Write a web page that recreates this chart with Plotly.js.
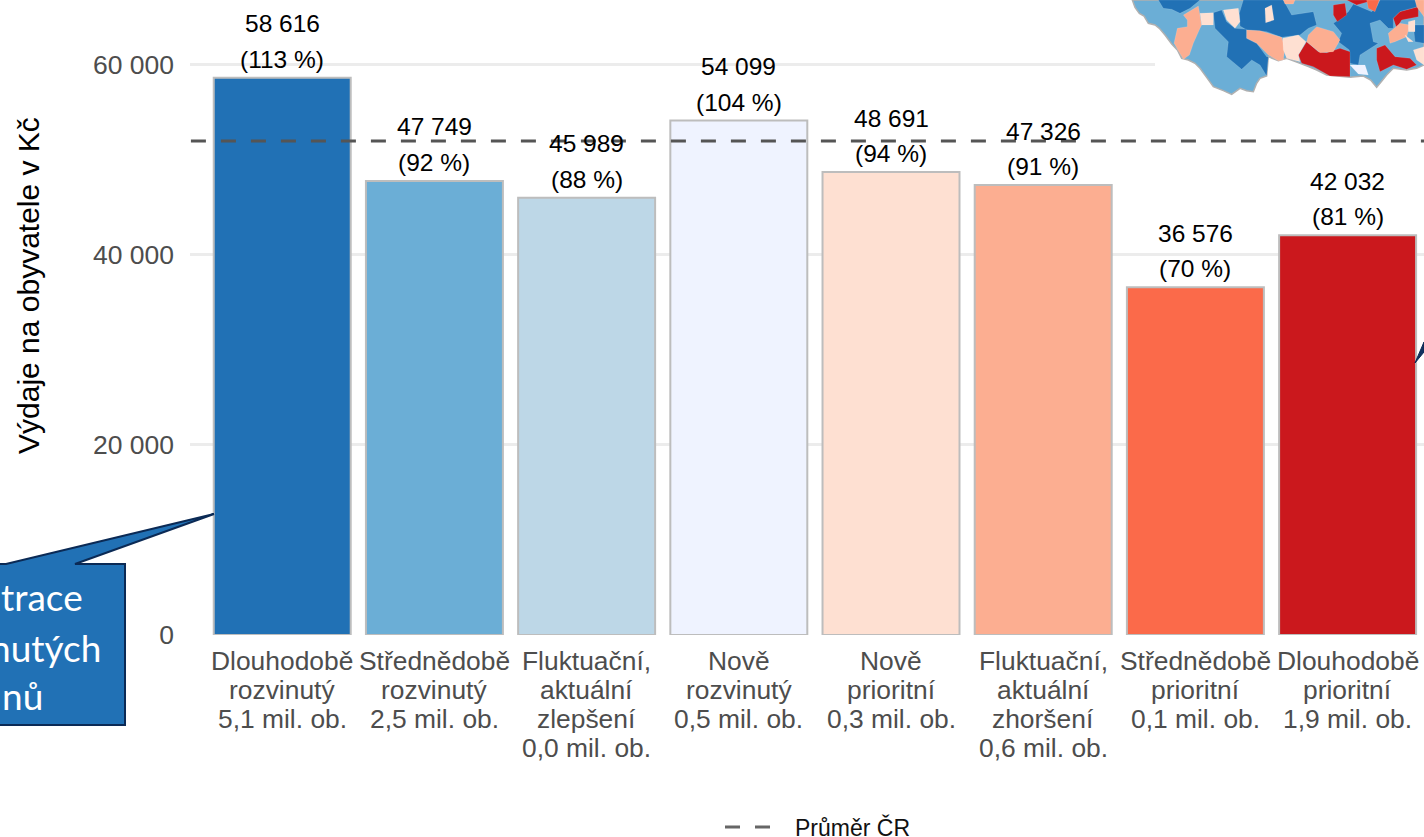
<!DOCTYPE html>
<html><head><meta charset="utf-8">
<script src="https://cdn.plot.ly/plotly-3.0.1.min.js"></script>
<style>html,body{margin:0;padding:0;background:#fff;overflow:hidden}</style></head>
<body><div id="c" style="width:1424px;height:837px"></div>
<script>
const categoryLines = [
 ["Dlouhodobě","rozvinutý","5,1 mil. ob."],
 ["Střednědobě","rozvinutý","2,5 mil. ob."],
 ["Fluktuační,","aktuální","zlepšení","0,0 mil. ob."],
 ["Nově","rozvinutý","0,5 mil. ob."],
 ["Nově","prioritní","0,3 mil. ob."],
 ["Fluktuační,","aktuální","zhoršení","0,6 mil. ob."],
 ["Střednědobě","prioritní","0,1 mil. ob."],
 ["Dlouhodobě","prioritní","1,9 mil. ob."]
];
const values = [58616,47749,45989,54099,48691,47326,36576,42032];
const valueLabels = ["58 616","47 749","45 989","54 099","48 691","47 326","36 576","42 032"];
const pctLabels = ["(113 %)","(92 %)","(88 %)","(104 %)","(94 %)","(91 %)","(70 %)","(81 %)"];
const barColors = ["#2171b5","#6baed6","#bdd7e7","#eff3ff","#fee0d2","#fcae91","#fb6a4a","#cb181d"];
const average = 51950;
const yTicks = [0,20000,40000,60000];
const yTickLabels = ["0","20 000","40 000","60 000"];
const calloutLines = [["trace",83,596],["nutých",101,647],["nů",43,695]];

// Decorative map inset, traced in crop coordinates
const mapOutline = [[97,0],[105,22],[118,40],[132,48],[145,70],[165,75],[178,85],[195,105],[215,132],[232,150],[245,175],[265,180],[285,190],[300,205],[322,235],[340,260],[370,272],[395,283],[420,265],[440,272],[460,275],[470,250],[480,235],[500,228],[505,170],[535,182],[560,175],[600,190],[625,200],[650,210],[680,225],[750,232],[790,228],[812,240],[830,262],[848,240],[860,225],[880,205],[920,210],[950,205],[972,195],[972,0]];
const mapRegions = [
 ["#2171b5",[[175,0],[190,25],[215,28],[240,40],[270,25],[300,0]]],
 ["#2171b5",[[430,0],[550,0],[575,45],[640,35],[650,75],[625,85],[600,105],[545,112],[500,95],[440,90],[420,78],[418,40]]],
 ["#2171b5",[[340,38],[365,30],[380,65],[405,85],[440,88],[440,115],[470,130],[500,170],[505,170],[500,228],[480,195],[455,180],[425,208],[380,170],[385,125],[345,85]]],
 ["#2171b5",[[700,70],[715,60],[745,35],[760,12],[815,35],[830,20],[840,0],[945,0],[955,20],[900,35],[880,55],[880,85],[865,85],[840,60],[810,70],[820,125],[835,130],[780,165],[775,195],[750,190],[748,150],[715,125],[725,100]]],
 ["#2171b5",[[940,75],[972,75],[972,130],[945,125]]],
 ["#cb181d",[[595,165],[620,125],[655,155],[680,158],[720,145],[750,155],[750,230],[690,228],[640,200],[605,190]]],
 ["#cb181d",[[700,15],[735,10],[740,45],[712,65],[700,45]]],
 ["#cb181d",[[740,0],[770,15],[805,5],[805,0]]],
 ["#cb181d",[[830,145],[855,135],[885,170],[930,175],[950,195],[920,208],[880,195],[840,215],[830,180]]],
 ["#cb181d",[[880,55],[900,35],[955,20],[955,50],[905,60],[890,85]]],
 ["#fcae91",[[250,45],[295,18],[305,75],[300,85],[280,130],[268,165],[250,178],[222,130],[232,85],[262,80],[262,60]]],
 ["#fcae91",[[440,90],[480,92],[545,112],[555,140],[550,180],[535,182],[505,165],[470,130],[440,115]]],
 ["#fcae91",[[625,105],[650,80],[700,95],[720,120],[700,155],[660,158],[620,125]]],
 ["#fcae91",[[865,100],[900,70],[930,75],[920,110],[885,125],[870,130]]],
 ["#fcae91",[[945,0],[972,0],[972,50],[950,20]]],
 ["#fcae91",[[550,0],[585,0],[580,12],[555,12]]],
 ["#fee0d2",[[300,40],[340,38],[340,75],[305,75]]],
 ["#fee0d2",[[370,30],[415,25],[420,65],[405,85],[380,60]]],
 ["#fee0d2",[[495,25],[515,15],[522,60],[497,68]]],
 ["#fee0d2",[[548,115],[595,105],[618,125],[595,165],[600,185],[560,175],[550,150]]],
 ["#fee0d2",[[925,65],[945,60],[945,95],[925,95]]],
 ["#fee0d2",[[915,105],[940,125],[925,125]]],
 ["#fee0d2",[[940,150],[972,140],[972,195],[950,180]]],
 ["#fb6a4a",[[800,0],[838,0],[825,35],[805,25]]],
 ["#eff3ff",[[750,195],[795,195],[805,225],[775,222]]]
];

const FONT = '"Liberation Sans", Arial, sans-serif';
const L=190,R=1424,B=635,W=R-L,H=B;
const px = x => (x-L)/W;
const py = y => (B-y)/H;
const cropPath = pts => 'M'+pts.map(p=>px(1100+p[0]/3).toFixed(5)+' '+py(p[1]/3).toFixed(5)).join('L')+'Z';
const pxPath = pts => 'M'+pts.map(p=>px(p[0]).toFixed(5)+' '+py(p[1]).toFixed(5)).join('L')+'Z';
const paperShape = (path,fill,color,width)=>({type:'path',xref:'paper',yref:'paper',layer:'above',path,fillcolor:fill,line:{color:color,width:width}});

const shapes = [
 {type:'rect',xref:'paper',yref:'paper',layer:'above',x0:px(1155),x1:1,y0:py(0),y1:py(95),fillcolor:'#fff',line:{width:0}},
 paperShape(cropPath(mapOutline),'#6baed6','#b0b0b0',1.5)
];
mapRegions.forEach(r=>shapes.push(paperShape(cropPath(r[1]),r[0],'rgba(255,255,255,0.25)',0.5)));
shapes.push(paperShape(pxPath([[-10,564],[6,564],[214,514],[75,564],[125,564],[125,725],[-10,725]]),'#2171b5','#0b2a55',2));
shapes.push(paperShape(pxPath([[1415,363],[1424,342],[1424,352]]),'#12315f','#0b2a55',1));
// legend key
shapes.push({type:'line',xref:'paper',yref:'paper',layer:'above',x0:px(725),x1:px(770),y0:py(827),y1:py(827),line:{color:'#666',width:3,dash:'15px,15px'}});

const annotations = [
 {x:px(28),y:py(286),xref:'paper',yref:'paper',showarrow:false,textangle:-90,xanchor:'center',yanchor:'middle',text:'Výdaje na obyvatele v Kč',font:{family:FONT,size:30,color:'#000'}},
 {x:px(795),y:py(827),xref:'paper',yref:'paper',showarrow:false,xanchor:'left',yanchor:'middle',xshift:-2,text:'Průměr ČR',font:{family:FONT,size:23,color:'#111'}}
];
values.forEach((v,i)=>{
 const base={x:i,y:v,xref:'x',yref:'y',showarrow:false,xanchor:'center',yanchor:'middle',font:{family:FONT,size:24.5,color:'#000'}};
 annotations.push({...base,text:valueLabels[i],yshift:54});
 annotations.push({...base,text:pctLabels[i],yshift:18.5});
 categoryLines[i].forEach((t,j)=>annotations.push({x:i,y:py(661+29*j),xref:'x',yref:'paper',showarrow:false,xanchor:'center',yanchor:'middle',text:t,font:{family:FONT,size:26.4,color:'#4d4d4d'}}));
});
calloutLines.forEach(c=>annotations.push({x:px(c[1]),y:py(c[2]),xref:'paper',yref:'paper',showarrow:false,xanchor:'right',yanchor:'middle',xshift:2,text:c[0],font:{family:'Lato, sans-serif',size:37,color:'#fff'}}));

const traces = [
 {type:'bar',x:values.map((_,i)=>i),y:values,width:0.9,marker:{color:barColors,line:{color:'#bdbdbd',width:2}},showlegend:false,hoverinfo:'y'},
 {type:'scatter',mode:'lines',x:[-0.6,7.6],y:[average,average],name:'Průměr ČR',showlegend:false,line:{color:'#555',width:3,dash:'15px,15px'}}
];
const layout = {
 width:1424,height:837,margin:{l:L,r:0,t:0,b:837-B,autoexpand:false},
 paper_bgcolor:'#fff',plot_bgcolor:'#fff',font:{family:FONT},
 xaxis:{range:[-0.606,7.502],tickvals:[],showgrid:false,zeroline:false,showline:false},
 yaxis:{range:[0,H/(570.5/60000)],tickvals:yTicks,ticktext:yTickLabels,gridcolor:'#ececec',gridwidth:3,zeroline:false,showline:false,ticks:'',
  tickfont:{family:FONT,size:26.5,color:'#4d4d4d'},ticklabelstandoff:15},
 showlegend:false,
 bargap:0.1,shapes,annotations
};
Plotly.newPlot('c',traces,layout,{displayModeBar:false,staticPlot:true});
</script></body></html>
